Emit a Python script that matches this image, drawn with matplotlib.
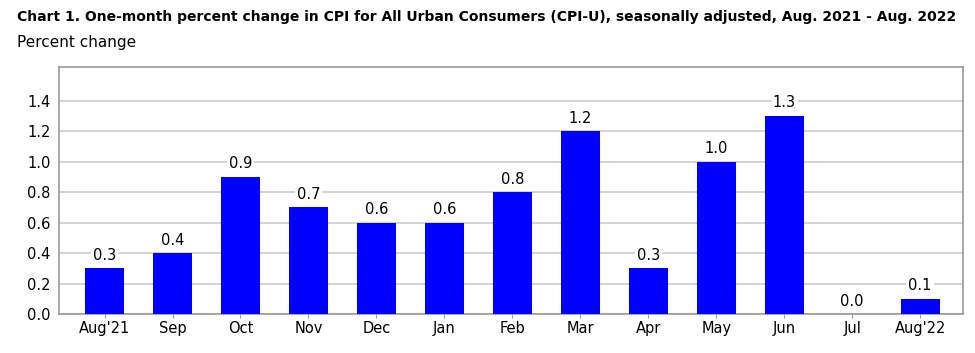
import matplotlib
matplotlib.use("Agg")
import matplotlib.pyplot as plt

months = ["Aug'21", "Sep", "Oct", "Nov", "Dec", "Jan", "Feb", "Mar", "Apr", "May", "Jun", "Jul", "Aug'22"]
values = [0.3, 0.4, 0.9, 0.7, 0.6, 0.6, 0.8, 1.2, 0.3, 1.0, 1.3, 0.0, 0.1]
yticks = [0.0, 0.2, 0.4, 0.6, 0.8, 1.0, 1.2, 1.4]

fig = plt.figure(figsize=(9.75, 3.53), dpi=100)
ax = fig.add_axes([59/975, 1-314/353, (963-59)/975, (314-67)/353])

x = list(range(len(months)))
ax.bar(x, values, width=0.57, color="#0000ff", zorder=3)
for xi, v in zip(x, values):
    ax.text(xi, v + 0.035, f"{v:.1f}", ha="center", va="bottom", fontsize=10.5,
            zorder=4, bbox=dict(facecolor="white", edgecolor="none", pad=1.5))

ax.set_xlim(-0.67, 12.63)
ax.set_ylim(0, 1.62)
ax.set_yticks(yticks)
ax.set_yticklabels([f"{t:.1f}" for t in yticks], fontsize=10.5)
ax.set_xticks(x)
ax.set_xticklabels(months, fontsize=10.5)
ax.yaxis.grid(True, color="#cccccc", linewidth=1.2, zorder=0)
ax.set_axisbelow(True)
for s in ax.spines.values():
    s.set_color("#999999")
    s.set_linewidth(1.2)
ax.tick_params(axis="y", length=0, pad=6)
ax.tick_params(axis="x", length=3, color="#999999", pad=2)

fig.text(17/975, 1-17/353, "Chart 1. One-month percent change in CPI for All Urban Consumers (CPI-U), seasonally adjusted, Aug. 2021 - Aug. 2022",
         fontsize=10.0, fontweight="bold", va="center", ha="left")
fig.text(17/975, 1-42/353, "Percent change", fontsize=11, va="center", ha="left")

fig.savefig("out.png", dpi=100)
